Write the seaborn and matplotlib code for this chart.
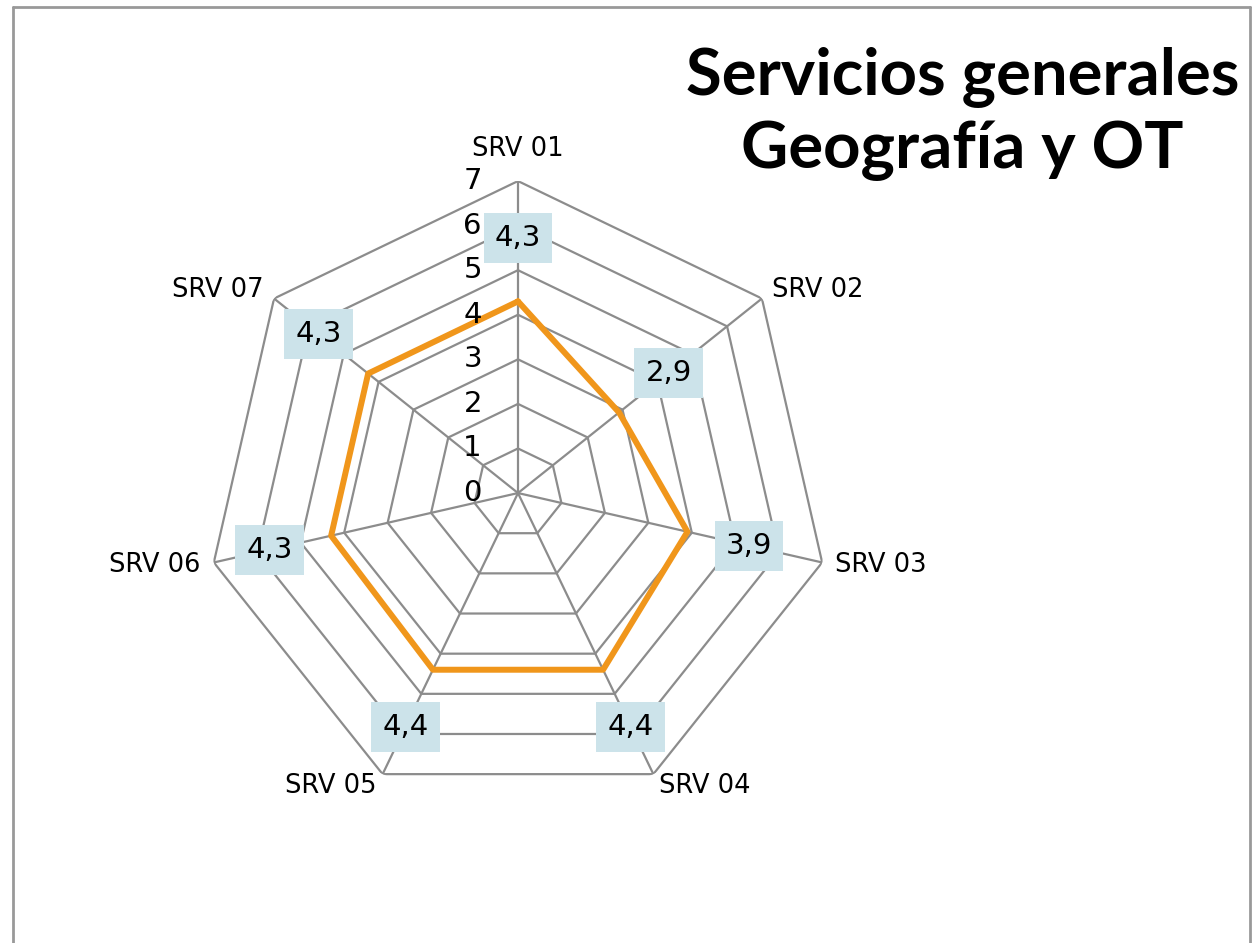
import numpy as np
import pandas as pd
import matplotlib
matplotlib.use("Agg")
import matplotlib.pyplot as plt
import seaborn as sns
from matplotlib.lines import Line2D

# data
categories = ['SRV 01', 'SRV 02', 'SRV 03', 'SRV 04', 'SRV 05', 'SRV 06', 'SRV 07']
values = [4.3, 2.9, 3.9, 4.4, 4.4, 4.3, 4.3]
value_labels = ['4,3', '2,9', '3,9', '4,4', '4,4', '4,3', '4,3']
levels = [0, 1, 2, 3, 4, 5, 6, 7]

sns.set_style("white")
plt.rcParams['font.family'] = ['DejaVu Sans']
plt.rcParams['text.color'] = 'black'

grid_color = '#8c8c8c'
line_color = '#f0961b'
box_color = '#cce3ea'

n = len(categories)
angles = np.linspace(0, 2 * np.pi, n, endpoint=False)
closed_angles = np.append(angles, angles[0])

df = pd.DataFrame({'theta': closed_angles, 'value': values + values[:1],
                   'order': range(n + 1)})

fig = plt.figure(figsize=(12.53, 9.43), dpi=100)
ax = fig.add_axes([0.1644, 0.1463, 0.498, 0.6617], projection='polar')
ax.set_theta_offset(np.pi / 2)
ax.set_theta_direction(-1)
ax.set_ylim(0, 7)
ax.grid(False)
ax.spines['polar'].set_visible(False)
ax.set_xticks([])
ax.set_yticks([])
ax.set_facecolor('none')

# heptagon grid and spokes
for lv in levels[1:]:
    ax.plot(closed_angles, [lv] * (n + 1), color=grid_color, lw=1.6, zorder=1)
for a in angles:
    ax.plot([a, a], [0, 7], color=grid_color, lw=1.6, zorder=1)

# the series
sns.lineplot(data=df, x='theta', y='value', sort=False, estimator=None,
             color=line_color, lw=4.3, ax=ax, zorder=3)
ax.set_xlabel('')
ax.set_ylabel('')

# radial tick labels
for lv in levels:
    ax.annotate(str(lv), xy=(0, lv), xytext=(-26, 0), textcoords='offset points',
                ha='right', va='center', fontsize=21, color='black')

# category labels
for a, cat in zip(angles, categories):
    s = np.sin(a)
    if abs(s) < 1e-6:
        ax.text(a, 7.72, cat, ha='center', va='center', fontsize=18.5, color='black')
    elif s > 0:
        ax.text(a, 7.3, cat, ha='left', va='center', fontsize=18.5, color='black')
    else:
        ax.text(a, 7.3, cat, ha='right', va='center', fontsize=18.5, color='black')

# data labels
for a, v, lab in zip(angles, values, value_labels):
    ax.text(a, v + 1.42, lab, ha='center', va='center', fontsize=21, zorder=4,
            color='black',
            bbox=dict(boxstyle='square,pad=0.38', facecolor=box_color, edgecolor='none'))

# title
fig.text(0.768, 1 - 95 / 943, 'Servicios generales', ha='center', va='baseline',
         fontsize=47, fontweight='bold', color='black', family=['Lato', 'DejaVu Sans'])
fig.text(0.768, 1 - 168 / 943, 'Geografía y OT', ha='center', va='baseline',
         fontsize=47, fontweight='bold', color='black', family=['Lato', 'DejaVu Sans'])

# chart frame (bottom edge runs off the image)
x0, x1 = 12.5 / 1253, 1249.5 / 1253
y_top = 1 - 6.5 / 943
for xs, ys in [([x0, x0], [-0.01, y_top]), ([x0, x1], [y_top, y_top]), ([x1, x1], [y_top, -0.01])]:
    fig.add_artist(Line2D(xs, ys, color='#999999', lw=2, transform=fig.transFigure))

fig.savefig('out.png', dpi=100, facecolor='white')
